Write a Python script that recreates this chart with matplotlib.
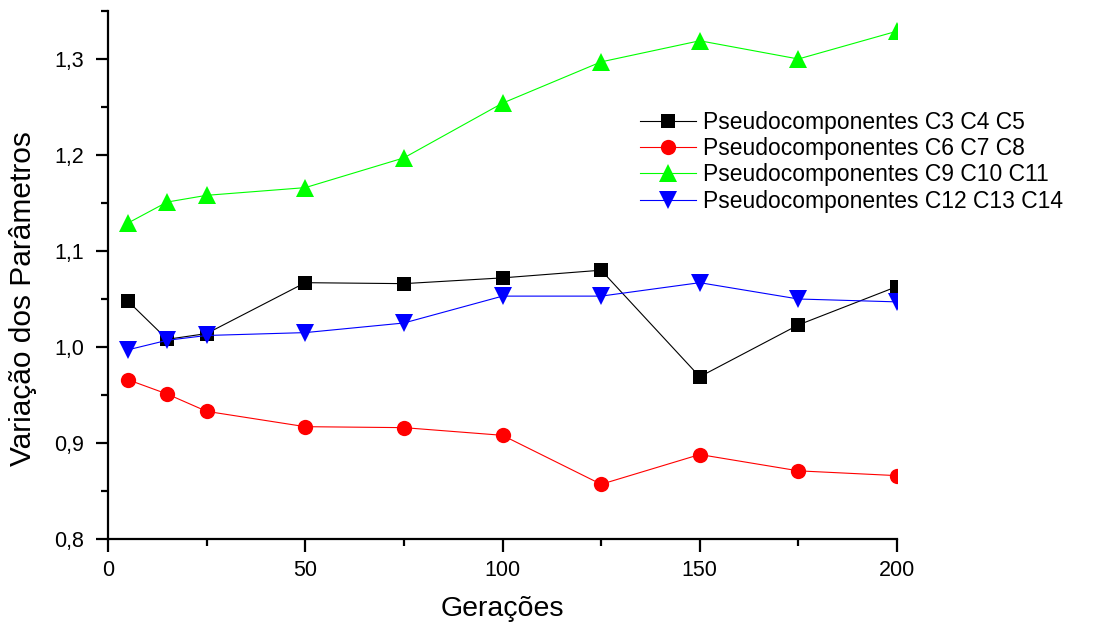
import matplotlib
matplotlib.use('Agg')
import matplotlib.pyplot as plt
from matplotlib.ticker import MultipleLocator, FuncFormatter

plt.rcParams['font.family'] = ['Liberation Sans', 'DejaVu Sans']

# gerações
geracoes = [5, 15, 25, 50, 75, 100, 125, 150, 175, 200]

# variação dos parâmetros por grupo de pseudocomponentes
c3_c5 = [1.048, 1.008, 1.014, 1.067, 1.066, 1.072, 1.080, 0.969, 1.023, 1.063]
c6_c8 = [0.966, 0.951, 0.933, 0.917, 0.916, 0.908, 0.857, 0.888, 0.871, 0.866]
c9_c11 = [1.129, 1.151, 1.158, 1.166, 1.197, 1.254, 1.297, 1.319, 1.300, 1.329]
c12_c14 = [0.997, 1.007, 1.012, 1.015, 1.025, 1.053, 1.053, 1.067, 1.050, 1.047]

labels = ['Pseudocomponentes C3 C4 C5', 'Pseudocomponentes C6 C7 C8',
          'Pseudocomponentes C9 C10 C11', 'Pseudocomponentes C12 C13 C14']

fig = plt.figure(figsize=(10.95, 6.23), dpi=100)
ax = fig.add_axes([108 / 1095, 84 / 623, (897 - 108) / 1095, (539 - 11) / 623])

ax.plot(geracoes, c3_c5, color='black', lw=0.8, marker='s', ms=9.5, mew=0, label=labels[0])
ax.plot(geracoes, c6_c8, color='red', lw=0.8, marker='o', ms=11, mew=0, label=labels[1])
ax.plot(geracoes, c9_c11, color='#00ff00', lw=0.8, marker='^', ms=12.5, mew=0, label=labels[2])
ax.plot(geracoes, c12_c14, color='blue', lw=0.8, marker='v', ms=12.5, mew=0, label=labels[3])

ax.set_xlim(0, 200)
ax.set_ylim(0.8, 1.35)

ax.spines['top'].set_visible(False)
ax.spines['right'].set_visible(False)
ax.spines['left'].set_linewidth(1.6)
ax.spines['bottom'].set_linewidth(1.6)

ax.xaxis.set_major_locator(MultipleLocator(50))
ax.xaxis.set_minor_locator(MultipleLocator(25))
ax.yaxis.set_major_locator(MultipleLocator(0.1))
ax.yaxis.set_minor_locator(MultipleLocator(0.05))
ax.yaxis.set_major_formatter(FuncFormatter(lambda v, p: f'{v:.1f}'.replace('.', ',')))

ax.tick_params(which='major', direction='out', length=9, width=1.6, labelsize=15.5)
ax.tick_params(which='minor', direction='out', length=5, width=1.6)
ax.tick_params(axis='y', which='major', pad=8)
ax.tick_params(axis='x', which='major', pad=6)

ax.set_xlabel('Gerações', fontsize=20.5, labelpad=11)
ax.set_ylabel('Variação dos Parâmetros', fontsize=21.5)
ax.yaxis.set_label_coords(-0.09, 0.456)

ax.legend(loc='upper left', bbox_to_anchor=(640 / 1095, 1 - 111 / 623),
          bbox_transform=fig.transFigure, frameon=False, fontsize=16.5,
          handlelength=2.45, handletextpad=0.3, borderpad=0, borderaxespad=0,
          labelspacing=0.14)

fig.savefig('out.png', dpi=100)
